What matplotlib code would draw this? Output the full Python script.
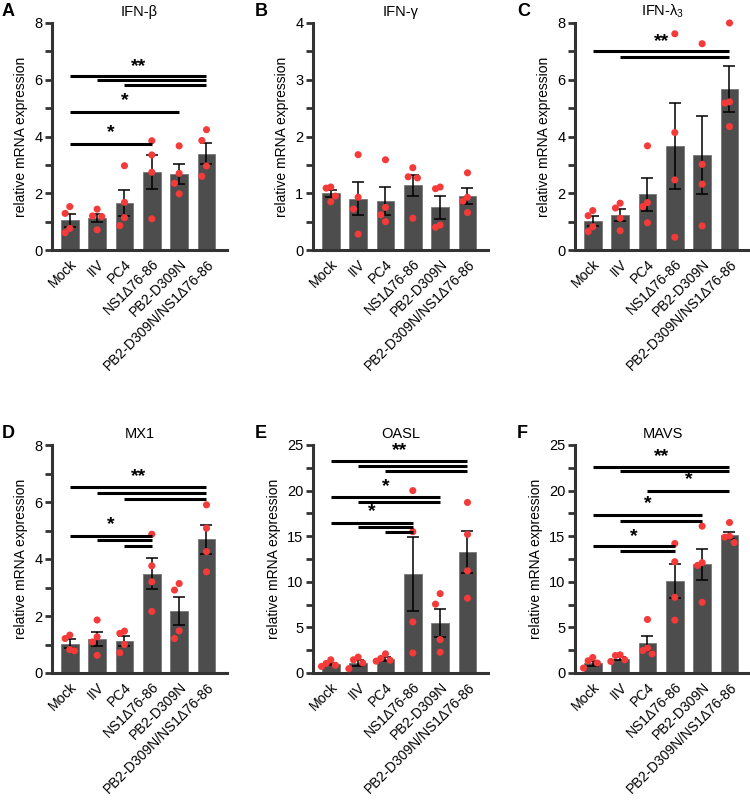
import numpy as np
import matplotlib
matplotlib.use("Agg")
import matplotlib.pyplot as plt
from matplotlib.transforms import offset_copy

plt.rcParams['font.family'] = ['Liberation Sans', 'DejaVu Sans']
plt.rcParams['mathtext.fontset'] = 'custom'
plt.rcParams['mathtext.rm'] = 'Liberation Sans'
plt.rcParams['mathtext.it'] = 'Liberation Sans'

categories = ['Mock', 'IIV', 'PC4', 'NS1Δ76-86', 'PB2-D309N', 'PB2-D309N/NS1Δ76-86']

# ---- Panel A: IFN-beta
ifnb_mean = [1.05, 1.13, 1.66, 2.75, 2.67, 3.39]
ifnb_sem = [0.23, 0.14, 0.46, 0.60, 0.35, 0.37]
ifnb_pts = [[1.53, 1.29, 0.76, 0.61], [1.44, 1.20, 1.18, 0.71], [2.97, 1.68, 1.14, 0.86],
            [3.85, 3.35, 2.74, 1.10], [3.67, 2.70, 2.35, 1.98], [4.24, 3.86, 2.96, 2.60]]
ifnb_sig_lines = [[(0, 5, 6.12), (1, 5, 5.98), (2, 5, 5.81)], [(0, 4, 4.85)], [(0, 3, 3.74)]]
ifnb_sig_text = [('**', 6.50), ('*', 5.30), ('*', 4.18)]

# ---- Panel B: IFN-gamma
ifng_mean = [1.00, 0.90, 0.86, 1.14, 0.75, 0.95]
ifng_sem = [0.06, 0.29, 0.25, 0.19, 0.20, 0.14]
ifng_pts = [[1.11, 1.09, 0.95, 0.85], [1.68, 0.93, 0.72, 0.28], [1.59, 0.75, 0.62, 0.50],
            [1.45, 1.29, 1.27, 0.56], [1.11, 1.08, 0.44, 0.40], [1.36, 0.93, 0.86, 0.66]]
ifng_sig_lines = []
ifng_sig_text = []

# ---- Panel C: IFN-lambda3
ifnl_mean = [1.03, 1.23, 1.96, 3.67, 3.36, 5.68]
ifnl_sem = [0.17, 0.21, 0.58, 1.52, 1.38, 0.80]
ifnl_pts = [[1.39, 1.21, 0.82, 0.65], [1.65, 1.48, 1.12, 0.68], [3.67, 1.67, 1.53, 0.96],
            [7.62, 4.14, 2.47, 0.45], [7.27, 3.02, 2.32, 0.85], [8.00, 5.22, 5.18, 4.35]]
ifnl_sig_lines = [[(0, 5, 7.00), (1, 5, 6.80)]]
ifnl_sig_text = [('**', 7.40)]

# ---- Panel D: MX1
mx1_mean = [1.02, 1.20, 1.12, 3.49, 2.18, 4.70]
mx1_sem = [0.16, 0.25, 0.19, 0.56, 0.49, 0.51]
mx1_pts = [[1.33, 1.21, 0.82, 0.78], [1.86, 1.27, 1.09, 0.62], [1.47, 1.39, 1.00, 0.71],
           [4.87, 3.76, 3.20, 2.16], [3.14, 2.91, 1.48, 1.21], [5.90, 5.08, 4.26, 3.55]]
mx1_sig_lines = [[(0, 5, 6.53), (1, 5, 6.32), (2, 5, 6.12)], [(0, 3, 4.82), (1, 3, 4.66), (2, 3, 4.47)]]
mx1_sig_text = [('**', 6.93), ('*', 5.24)]

# ---- Panel E: OASL
oasl_mean = [0.98, 1.12, 1.56, 10.85, 5.47, 13.30]
oasl_sem = [0.12, 0.33, 0.22, 4.10, 1.55, 2.30]
oasl_pts = [[1.45, 1.05, 0.85, 0.72], [1.74, 1.45, 1.10, 0.47], [2.10, 1.60, 1.40, 1.30],
            [20.0, 15.5, 5.6, 2.2], [8.70, 7.55, 3.66, 2.28], [18.7, 15.2, 11.2, 8.2]]
oasl_sig_lines = [[(0, 5, 23.2), (1, 5, 22.7), (2, 5, 22.1)], [(0, 4, 19.3), (1, 4, 18.8)],
                  [(0, 3, 16.5), (1, 3, 16.0), (2, 3, 15.5)]]
oasl_sig_text = [('**', 24.5), ('*', 20.6), ('*', 17.8)]

# ---- Panel F: MAVS
mavs_mean = [1.09, 1.56, 3.26, 10.10, 11.90, 15.10]
mavs_sem = [0.27, 0.15, 0.84, 1.90, 1.65, 0.40]
mavs_pts = [[1.70, 1.34, 1.09, 0.54], [1.99, 1.92, 1.45, 1.27], [5.87, 2.72, 2.46, 2.10],
            [14.2, 12.2, 8.3, 5.8], [16.1, 12.1, 11.8, 7.75], [16.5, 15.0, 14.9, 14.3]]
mavs_sig_lines = [[(0, 5, 22.6), (1, 5, 22.1)], [(2, 5, 20.0)], [(0, 4, 17.3), (1, 4, 16.7)],
                  [(0, 3, 13.9), (1, 3, 13.4)]]
mavs_sig_text = [('**', 23.9), ('*', 21.3), ('*', 18.7), ('*', 15.1)]

panels = [
    ('A', 'IFN-β', ifnb_mean, ifnb_sem, ifnb_pts, ifnb_sig_lines, ifnb_sig_text, 8, 2),
    ('B', 'IFN-γ', ifng_mean, ifng_sem, ifng_pts, ifng_sig_lines, ifng_sig_text, 4, 1),
    ('C', 'IFN-$\\lambda_3$', ifnl_mean, ifnl_sem, ifnl_pts, ifnl_sig_lines, ifnl_sig_text, 8, 2),
    ('D', 'MX1', mx1_mean, mx1_sem, mx1_pts, mx1_sig_lines, mx1_sig_text, 8, 2),
    ('E', 'OASL', oasl_mean, oasl_sem, oasl_pts, oasl_sig_lines, oasl_sig_text, 25, 5),
    ('F', 'MAVS', mavs_mean, mavs_sem, mavs_pts, mavs_sig_lines, mavs_sig_text, 25, 5),
]

W, H = 750, 800
fig = plt.figure(figsize=(7.5, 8.0), dpi=100)

ax_w = 175
lefts = [52, 313, 575]
row_top = [23, 445]
row_bot = [250, 673]

BAR = '#4d4d4d'
DOT = '#f53a3a'
AXC = '#333333'
STAR_FS = 14


def swarm_offsets(vals, ymax):
    thr = 0.055 * ymax
    order = np.argsort(vals)[::-1]
    placed = []
    offs = np.zeros(len(vals))
    cands = [0.0, -0.17, 0.17, -0.34, 0.34]
    for i in order:
        for c in cands:
            ok = all(not (abs(c - po) < 0.1 and abs(vals[i] - pv) < thr) for po, pv in placed)
            if ok:
                offs[i] = c
                placed.append((c, vals[i]))
                break
    return offs


for k, (letter, title, mean, sem, pts, sig_lines, sig_text, ymax, step) in enumerate(panels):
    r, c = divmod(k, 3)
    l = lefts[c]
    ax = fig.add_axes([l / W, 1 - row_bot[r] / H, ax_w / W, (row_bot[r] - row_top[r]) / H])
    x = np.arange(len(categories))
    ax.bar(x, mean, width=0.65, color=BAR, edgecolor='#777777', linewidth=0.6, zorder=2)
    ax.errorbar(x, mean, yerr=sem, fmt='none', ecolor='black', elinewidth=1.1,
                capsize=4, capthick=1.1, zorder=3)
    for i, p in enumerate(pts):
        offs = swarm_offsets(np.array(p), ymax)
        ax.scatter(x[i] + offs, p, s=26, color=DOT, edgecolors='none', zorder=4, clip_on=False)
    for group, (lab, ty) in zip(sig_lines, sig_text):
        for (a, b, y) in group:
            ax.plot([x[a], x[b]], [y, y], color='black', lw=2.2, solid_capstyle='butt',
                    zorder=5, clip_on=False)
        a0, b0, _ = group[0]
        tr = offset_copy(ax.transData, fig=fig, x=0, y=-0.30 * STAR_FS, units='points')
        ax.text((x[a0] + x[b0]) / 2, ty, lab, transform=tr, ha='center', va='baseline',
                fontsize=STAR_FS, fontweight='bold', color='black', zorder=6)

    ax.set_xlim(-0.65, 5.75)
    ax.set_ylim(0, ymax)
    ax.set_yticks(np.arange(0, ymax + 0.01, step))
    ax.set_yticks(np.arange(step / 2, ymax, step), minor=True)
    ax.set_xticks(x)
    ax.set_xticklabels(categories, rotation=45, ha='right', va='top',
                       rotation_mode='anchor', fontsize=10)
    ax.tick_params(axis='x', length=0, pad=5)
    ax.tick_params(axis='y', which='major', length=5, width=2, color=AXC, labelsize=10.5, pad=2)
    ax.tick_params(axis='y', which='minor', length=5, width=2, color=AXC)
    for s in ['top', 'right']:
        ax.spines[s].set_visible(False)
    for s in ['left', 'bottom']:
        ax.spines[s].set_linewidth(2.2)
        ax.spines[s].set_color(AXC)
    ax.set_ylabel('relative mRNA expression', fontsize=10, labelpad=4)
    ax.set_title(title, fontsize=10.5, pad=5)
    fig.text((l - 50) / W if c == 0 else (l - 58) / W, 1 - (row_top[r] - 11) / H, letter,
             fontsize=13, fontweight='bold', ha='left', va='center')

fig.savefig('out.png', dpi=100)
